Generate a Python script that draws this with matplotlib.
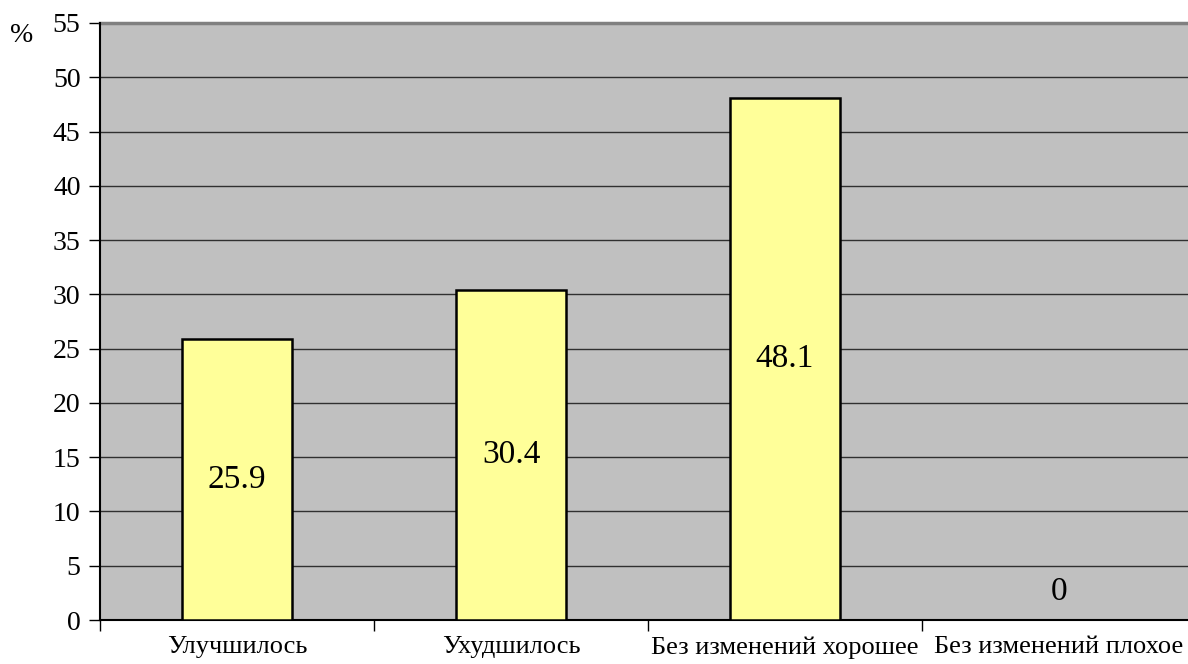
import numpy as np
import matplotlib
matplotlib.use("Agg")
import matplotlib.pyplot as plt

categories = ["Улучшилось", "Ухудшилось", "Без изменений хорошее", "Без изменений плохое"]
values = [25.9, 30.4, 48.1, 0]
value_labels = ["25.9", "30.4", "48.1", "0"]
y_ticks = [0, 5, 10, 15, 20, 25, 30, 35, 40, 45, 50, 55]

plt.rcParams["font.family"] = ["Liberation Serif", "DejaVu Serif"]

W, H = 1188, 664
fig = plt.figure(figsize=(W / 100, H / 100), dpi=100)

left, right, top, bottom = 100, 1196, 23, 620
ax = fig.add_axes([left / W, 1 - bottom / H, (right - left) / W, (bottom - top) / H])
ax.set_facecolor("#C0C0C0")

x = np.arange(len(categories))
ax.bar(x, values, width=0.4, color="#FFFF99", edgecolor="black", linewidth=1.8, zorder=3)

ax.set_xlim(-0.5, len(categories) - 0.5)
ax.set_ylim(0, 55)

ax.set_yticks(y_ticks)
ax.set_yticklabels([str(t) for t in y_ticks], fontsize=20)
ax.yaxis.grid(True, color="#303030", linewidth=1.0, zorder=0)
ax.tick_params(axis="y", direction="out", length=8, width=1, pad=6)

# category labels between tick marks at boundaries
ax.set_xticks(np.arange(len(categories) + 1) - 0.5)
ax.set_xticklabels([])
ax.tick_params(axis="x", direction="out", length=8, width=1)
for i, c in enumerate(categories):
    ax.text(i, -1.5, c, ha="center", va="top", fontsize=19)

for i, (v, lab) in enumerate(zip(values, value_labels)):
    y = v / 2 if v > 0 else 2.6
    ax.text(i, y, lab, ha="center", va="center", fontsize=24, zorder=4)

for s in ["top", "right"]:
    ax.spines[s].set_visible(False)
ax.axhline(55, color="#808080", linewidth=2.5, zorder=2, clip_on=False)
ax.spines["left"].set_linewidth(1.5)
ax.spines["bottom"].set_linewidth(1.5)

fig.text(22 / W, 1 - 36 / H, "%", ha="center", va="center", fontsize=20)

fig.savefig("out.png", dpi=100)
